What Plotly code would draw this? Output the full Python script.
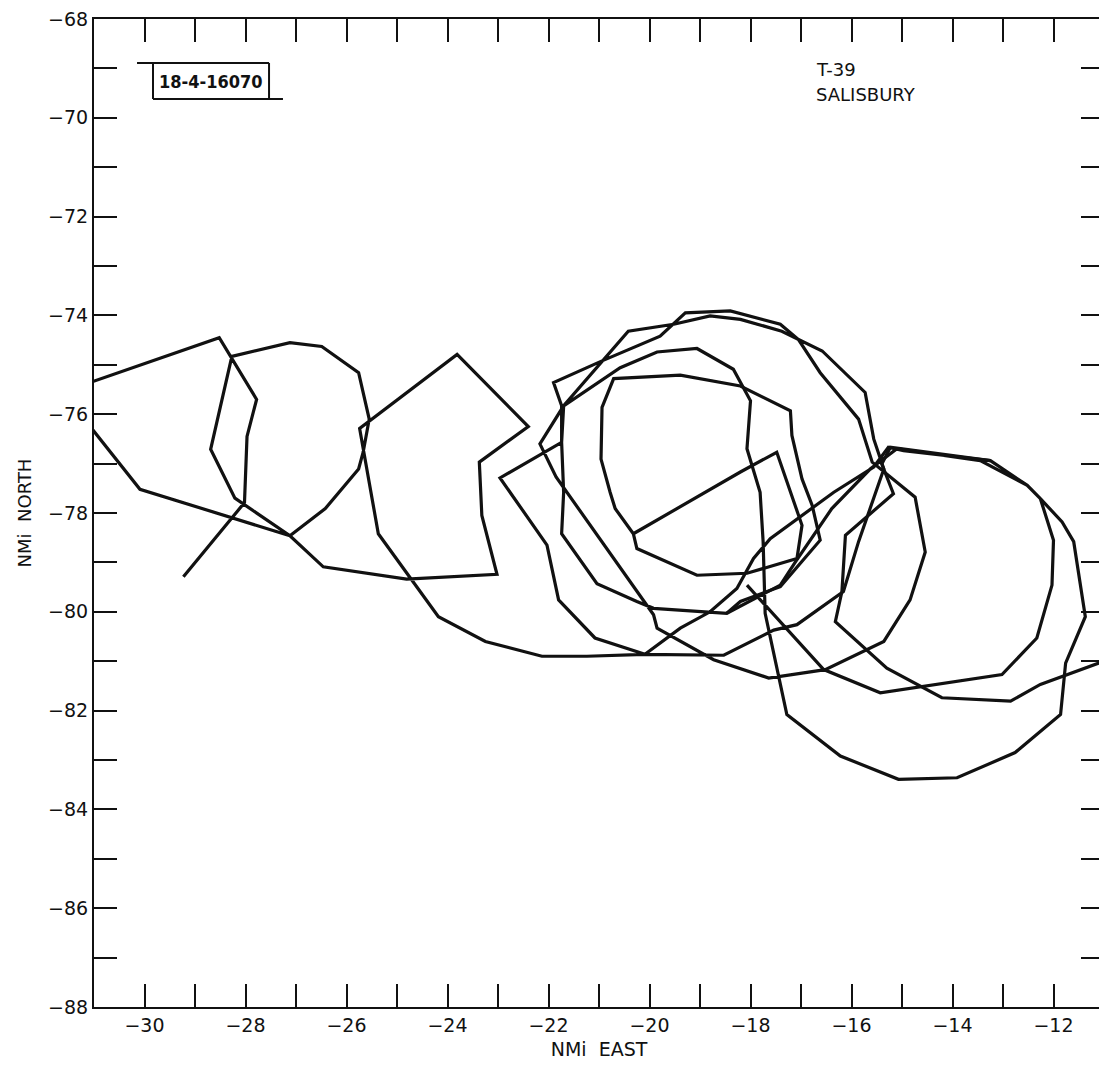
import plotly.graph_objects as go

# ---- Flight track (NMi EAST, NMi NORTH) ----
# Main continuous track: start -> western loops -> middle/right loops
track_x = [-29.23, -28.02, -27.97, -27.78, -28.52, -31.62, -30.09, -27.12, -26.42, -25.76,
           -25.67, -25.55, -25.76, -26.49, -27.12, -28.27, -28.69, -28.21, -27.12, -26.46,
           -24.81, -23.02, -23.32, -23.37, -22.40, -23.81, -25.74, -25.37, -24.18, -23.25,
           -22.13, -21.24, -20.09,
           -21.08, -21.80, -22.03, -22.96, -21.74, -21.70, -20.58, -19.85, -19.06, -18.34,
           -18.00, -18.07, -17.81, -17.75, -17.71, -17.28, -16.22, -15.07, -13.91, -12.76,
           -11.86, -11.76, -11.37, -11.60, -11.83, -12.26, -12.52, -13.25, -14.97, -15.27,
           -15.56, -16.35, -17.61, -17.94, -18.27, -18.80, -19.39, -20.09,
           -18.53, -17.54, -17.08, -16.16, -15.86, -15.36,
           -15.56, -15.73, -16.58, -17.38, -18.20, -18.80, -19.52, -20.42, -21.70, -22.17,
           -21.85, -19.92, -19.85, -18.73, -17.64, -16.52, -15.36, -14.84, -14.54, -14.74,
           -15.36,
           -15.59, -15.86, -16.62, -17.05, -17.41, -18.40, -19.29, -19.79, -20.94, -21.90,
           -21.74, -21.74, -21.70, -21.74, -21.04, -20.25, -19.92, -18.47, -17.41, -17.11,
           -16.39, -15.63, -15.10,
           -13.45, -12.52, -12.26, -12.00, -12.03, -12.33, -13.02, -15.43, -16.55, -18.07]
track_y = [-79.29, -77.79, -76.45, -75.70, -74.45, -75.55, -77.52, -78.46, -77.91, -77.11,
           -76.77, -76.10, -75.16, -74.63, -74.55, -74.83, -76.71, -77.70, -78.46, -79.09,
           -79.34, -79.24, -78.05, -76.97, -76.25, -74.79, -76.29, -78.42, -80.10, -80.60,
           -80.90, -80.90, -80.86,
           -80.53, -79.76, -78.65, -77.29, -76.57, -75.83, -75.06, -74.74, -74.67, -75.09,
           -75.73, -76.70, -77.58, -78.58, -80.03, -82.08, -82.92, -83.39, -83.36, -82.85,
           -82.08, -81.04, -80.10, -78.58, -78.18, -77.71, -77.44, -76.94, -76.74, -76.67,
           -77.07, -77.58, -78.52, -78.92, -79.53, -80.00, -80.33, -80.86,
           -80.88, -80.37, -80.26, -79.59, -78.58, -77.11,
           -76.50, -75.56, -74.72, -74.32, -74.08, -74.01, -74.18, -74.32, -75.83, -76.60,
           -77.27, -80.06, -80.33, -80.97, -81.34, -81.17, -80.60, -79.76, -78.79, -77.68,
           -77.17,
           -76.97, -76.10, -75.16, -74.49, -74.18, -73.91, -73.95, -74.42, -74.92, -75.36,
           -75.83, -76.57, -77.58, -78.42, -79.43, -79.79, -79.93, -80.03, -79.46, -78.99,
           -77.91, -77.11, -76.70,
           -76.94, -77.44, -77.71, -78.55, -79.46, -80.53, -81.27, -81.64, -81.17, -79.46]

# Inner loops of the middle cluster
inner_x = [-20.32, -18.20, -17.48, -16.98, -17.08, -18.07, -19.06, -20.25, -20.32, -20.68,
           -20.78, -20.96, -20.94, -20.71, -19.39, -18.20, -17.21, -17.18, -16.98, -16.78,
           -16.62, -17.41, -18.20, -18.47]
inner_y = [-78.42, -77.17, -76.77, -78.25, -78.92, -79.22, -79.26, -78.72, -78.42, -77.91,
           -77.58, -76.91, -75.86, -75.28, -75.21, -75.43, -75.93, -76.43, -77.31, -77.84,
           -78.55, -79.49, -79.79, -80.03]

# Final leg leaving the plot to the east
exit_x = [-13.25, -14.90, -15.23, -15.40, -15.17, -16.12, -16.19, -16.32, -15.30, -14.21,
          -12.85, -12.26, -11.00, -10.00]
exit_y = [-76.94, -76.71, -76.67, -77.01, -77.61, -78.45, -79.59, -80.20, -81.14, -81.74,
          -81.81, -81.47, -81.00, -80.68]

x_ticks = list(range(-31, -10))
y_ticks = list(range(-88, -67))
x_labels = [("\u2212" + str(abs(v))) if v % 2 == 0 else "" for v in x_ticks]
y_labels = [("\u2212" + str(abs(v))) if v % 2 == 0 else "" for v in y_ticks]

INK = "#111111"
LINE = dict(color=INK, width=3.2)
FONT = "DejaVu Sans, Arial, sans-serif"

fig = go.Figure()
for xs, ys in [(track_x, track_y), (inner_x, inner_y), (exit_x, exit_y)]:
    fig.add_trace(go.Scatter(x=xs, y=ys, mode="lines", line=LINE,
                             showlegend=False, hoverinfo="skip"))

axis_common = dict(
    automargin=False, ticklabeloverflow="allow",
    showgrid=False, zeroline=False, showline=True, linecolor=INK, linewidth=2.2,
    mirror="allticks", ticks="inside", ticklen=23, tickwidth=2.2, tickcolor=INK,
    tickfont=dict(family=FONT, size=19, color=INK),
)
fig.update_xaxes(range=[-31, -11], tickmode="array", tickvals=x_ticks, ticktext=x_labels,
                 title=dict(text="NMi\u00a0\u00a0EAST", font=dict(family=FONT, size=19, color=INK),
                            standoff=8),
                 **axis_common)
fig.update_yaxes(range=[-88, -68], tickmode="array", tickvals=y_ticks, ticktext=y_labels,
                 title=dict(text="NMi\u00a0\u00a0NORTH", font=dict(family=FONT, size=18, color=INK),
                            standoff=12),
                 **axis_common)

# Figure-id box (top left) drawn in paper coordinates
box = dict(type="line", xref="paper", yref="paper", line=dict(color=INK, width=2))
fig.add_shape(**box, x0=0.0426, x1=0.1733, y0=0.9555, y1=0.9555)
fig.add_shape(**box, x0=0.0584, x1=0.1871, y0=0.919, y1=0.919)
fig.add_shape(**box, x0=0.0584, x1=0.0584, y0=0.919, y1=0.9555)
fig.add_shape(**box, x0=0.1733, x1=0.1733, y0=0.919, y1=0.9555)

fig.add_annotation(x=0.1158, y=0.9372, xref="paper", yref="paper", text="<b>18-4-16070</b>",
                   showarrow=False, xanchor="center", yanchor="middle",
                   font=dict(family="DejaVu Sans Condensed, DejaVu Sans", size=18, color=INK))
fig.add_annotation(x=0.713, y=0.949, xref="paper", yref="paper", text="T-39",
                   showarrow=False, xanchor="left", yanchor="middle",
                   font=dict(family=FONT, size=18, color=INK))
fig.add_annotation(x=0.713, y=0.9231, xref="paper", yref="paper", text="SALISBURY",
                   showarrow=False, xanchor="left", yanchor="middle",
                   font=dict(family=FONT, size=18, color=INK))

# the page body adds an 8px offset, so margins are reduced to keep the frame in place
fig.update_layout(width=1099, height=1062, autosize=False,
                  margin=dict(l=86, r=3, t=11, b=63),
                  paper_bgcolor="white", plot_bgcolor="white")

fig.write_html("out.html")
